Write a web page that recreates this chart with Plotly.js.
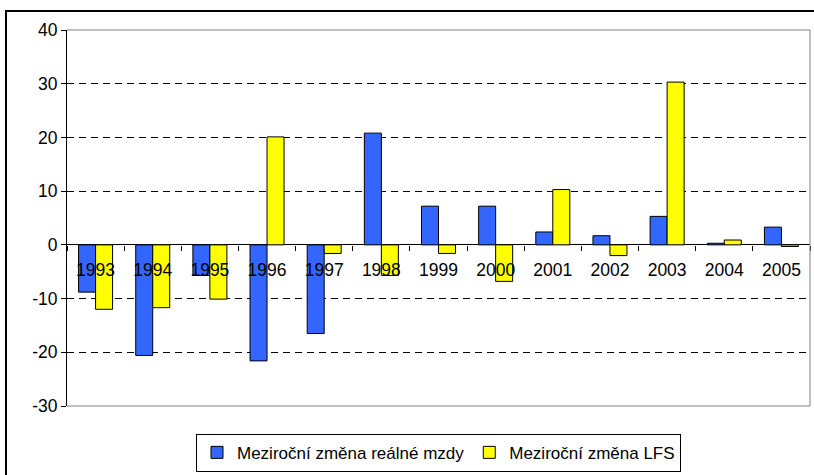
<!DOCTYPE html>
<html>
<head>
<meta charset="utf-8">
<script src="https://cdn.plot.ly/plotly-3.0.1.min.js"></script>
<style>
html,body{margin:0;padding:0;overflow:hidden;background:#fff;}
#chart{width:814px;height:475px;}
#frame{position:absolute;left:5px;top:10px;width:900px;height:600px;border:2px solid #000;pointer-events:none;box-sizing:border-box;}
</style>
</head>
<body>
<div id="chart"></div>
<div id="frame"></div>
<script>
var years = ["1993","1994","1995","1996","1997","1998","1999","2000","2001","2002","2003","2004","2005"];
var wageChange = [-8.8, -20.6, -5.7, -21.6, -16.5, 20.8, 7.2, 7.2, 2.4, 1.7, 5.3, 0.3, 3.3];
var lfsChange = [-12.0, -11.7, -10.1, 20.1, -1.6, -5.7, -1.6, -6.8, 10.3, -2.0, 30.3, 0.9, -0.3];
var seriesNames = ["Meziroční změna reálné mzdy", "Meziroční změna LFS"];
var yTickVals = [-30, -20, -10, 0, 10, 20, 30, 40];
var yTickText = ["-30", "-20", "-10", "0", "10", "20", "30", "40"];

var font = {family: "Liberation Sans, Arial, sans-serif", size: 17.5, color: "#000"};
var legendFont = {family: "Liberation Sans, Arial, sans-serif", size: 17, color: "#000"};

var traces = [
  {type: "bar", x: years, y: wageChange, name: seriesNames[0],
   marker: {color: "#3366FF", line: {color: "#000", width: 1}}},
  {type: "bar", x: years, y: lfsChange, name: seriesNames[1],
   marker: {color: "#FFFF00", line: {color: "#000", width: 1}}}
];

var layout = {
  width: 814, height: 475,
  margin: {l: 67, r: 4, t: 30, b: 69, autoexpand: false},
  paper_bgcolor: "#fff", plot_bgcolor: "#fff",
  font: font,
  barmode: "group", bargap: 0.405, bargroupgap: 0,
  showlegend: true,
  legend: {orientation: "h", x: 0.5, xanchor: "center", y: -0.074, yanchor: "top",
           bordercolor: "#000", borderwidth: 1, font: legendFont, itemwidth: 30, itemclick: false},
  xaxis: {type: "category", anchor: "free", position: 3/7, showline: false, showgrid: false,
          zeroline: false, ticks: "outside", ticklen: 5, tickcolor: "#000", tickson: "boundaries",
          ticklabelstandoff: 13, tickfont: font, automargin: false, fixedrange: true},
  yaxis: {range: [-30, 40], tickvals: yTickVals, ticktext: yTickText, showgrid: true, gridcolor: "#000", gridwidth: 1,
          griddash: "7px,5px", zeroline: true, zerolinecolor: "#000", zerolinewidth: 1,
          showline: true, linecolor: "#000", linewidth: 1, ticks: "outside", ticklen: 5,
          tickcolor: "#000", tickfont: font, automargin: false, fixedrange: true},
  shapes: [
    {type: "line", xref: "paper", yref: "paper", x0: 0, x1: 1, y0: 1, y1: 1, line: {color: "#808080", width: 1}, layer: "above"},
    {type: "line", xref: "paper", yref: "paper", x0: 1, x1: 1, y0: 0, y1: 1, line: {color: "#808080", width: 1}, layer: "above"},
    {type: "line", xref: "paper", yref: "paper", x0: 0, x1: 1, y0: 0, y1: 0, line: {color: "#808080", width: 1}, layer: "above"}
  ]
};

Plotly.newPlot("chart", traces, layout, {displayModeBar: false, staticPlot: true});
</script>
</body>
</html>
